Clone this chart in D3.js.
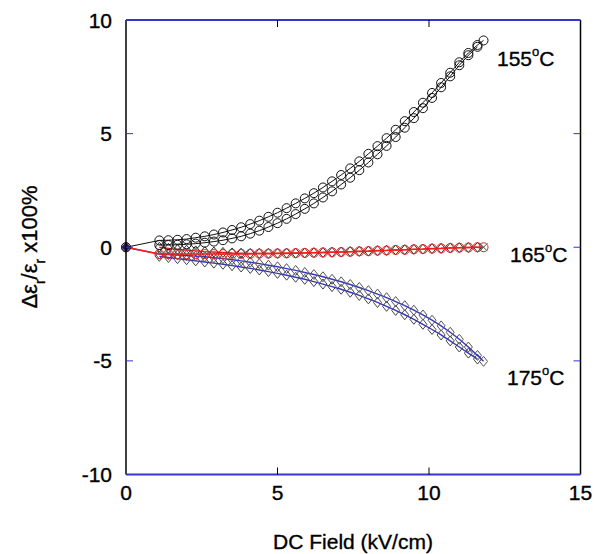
<!DOCTYPE html>
<html><head><meta charset="utf-8">
<script src="https://cdn.jsdelivr.net/npm/d3@7"></script>
<style>
html,body{margin:0;padding:0;background:#fff;}
text{font-family:"Liberation Sans",Arial,sans-serif;fill:#000;stroke:#000;stroke-width:0.35px;}
</style></head>
<body>
<svg id="chart" width="602" height="554"></svg>
<script>
// ---- data ----
const fieldsA = [0, 1.1, 1.4, 1.7, 2.0, 2.3, 2.6, 2.9, 3.2, 3.5, 3.8, 4.1, 4.4, 4.7, 5.0, 5.3, 5.6, 5.9, 6.2, 6.5, 6.8, 7.1, 7.4, 7.7, 8.0, 8.3, 8.6, 8.9, 9.2, 9.5, 9.8, 10.1, 10.4, 10.7, 11.0, 11.3, 11.6, 11.8];
const fieldsB = [1.1, 1.4, 1.7, 2.0, 2.3, 2.6, 2.9, 3.2, 3.5, 3.8, 4.1, 4.4, 4.7, 5.0, 5.3, 5.6, 5.9, 6.2, 6.5, 6.8, 7.1, 7.4, 7.7, 8.0, 8.3, 8.6, 8.9, 9.2, 9.5, 9.8, 10.1, 10.4, 10.7, 11.0, 11.3, 11.6];

const t155A = [0, 0.30, 0.31, 0.33, 0.36, 0.42, 0.48, 0.56, 0.65, 0.76, 0.88, 1.02, 1.17, 1.34, 1.52, 1.72, 1.93, 2.15, 2.38, 2.63, 2.90, 3.18, 3.47, 3.78, 4.11, 4.45, 4.80, 5.17, 5.55, 5.95, 6.36, 6.79, 7.23, 7.68, 8.14, 8.55, 8.90, 9.10];
const t155B = [0.10, 0.10, 0.11, 0.13, 0.16, 0.20, 0.25, 0.31, 0.39, 0.48, 0.60, 0.73, 0.89, 1.06, 1.25, 1.46, 1.69, 1.93, 2.19, 2.46, 2.76, 3.06, 3.39, 3.73, 4.09, 4.46, 4.85, 5.26, 5.68, 6.12, 6.57, 7.04, 7.52, 8.01, 8.45, 8.82];

const t165A = [0, -0.30, -0.30, -0.30, -0.30, -0.30, -0.30, -0.30, -0.30, -0.29, -0.29, -0.29, -0.28, -0.28, -0.27, -0.27, -0.26, -0.25, -0.24, -0.23, -0.22, -0.21, -0.20, -0.18, -0.17, -0.15, -0.14, -0.12, -0.11, -0.09, -0.08, -0.06, -0.05, -0.03, -0.02, -0.01, 0.00, 0.00];
const t165B = [0.00, -0.05, -0.10, -0.13, -0.16, -0.19, -0.21, -0.23, -0.25, -0.26, -0.27, -0.27, -0.27, -0.27, -0.26, -0.26, -0.25, -0.24, -0.23, -0.22, -0.21, -0.19, -0.18, -0.17, -0.15, -0.14, -0.12, -0.11, -0.09, -0.08, -0.06, -0.05, -0.03, -0.02, -0.01, 0.00];

const t175A = [0, -0.30, -0.32, -0.34, -0.36, -0.39, -0.42, -0.46, -0.50, -0.55, -0.60, -0.66, -0.72, -0.79, -0.86, -0.94, -1.02, -1.11, -1.20, -1.30, -1.41, -1.52, -1.64, -1.77, -1.91, -2.06, -2.22, -2.39, -2.57, -2.77, -2.98, -3.21, -3.46, -3.74, -4.05, -4.39, -4.76, -5.02];
const t175B = [-0.40, -0.45, -0.50, -0.55, -0.60, -0.65, -0.70, -0.75, -0.81, -0.87, -0.93, -1.00, -1.07, -1.15, -1.23, -1.32, -1.41, -1.51, -1.62, -1.73, -1.85, -1.98, -2.12, -2.27, -2.43, -2.60, -2.78, -2.97, -3.17, -3.39, -3.62, -3.86, -4.12, -4.39, -4.66, -4.92];

const xTicks = [0, 5, 10, 15];
const yTicks = [-10, -5, 0, 5, 10];
const seriesLabels = ["155", "165", "175"];
const labelValues = [8.33, -0.3, -5.71];

// ---- layout ----
const svg = d3.select("#chart");
const x = d3.scaleLinear().domain([0, 15]).range([126, 580.5]);
const y = d3.scaleLinear().domain([-10, 10]).range([474.5, 20]);
const BLUE = "#3535c8";

const zip = (xs, ys) => xs.map((v, i) => [v, ys[i]]);
const line = d3.line().x(d => x(d[0])).y(d => y(d[1]));

function drawSeries(pts, lineColor, marker, mColor, lw) {
  svg.append("path").datum(pts).attr("d", line)
    .attr("fill", "none").attr("stroke", lineColor).attr("stroke-width", lw);
  const g = svg.append("g");
  pts.forEach(p => {
    const cx = x(p[0]), cy = y(p[1]);
    if (marker === "circle") {
      g.append("circle").attr("cx", cx).attr("cy", cy).attr("r", 4.5)
        .attr("fill", "none").attr("stroke", mColor).attr("stroke-width", 1);
    } else if (marker === "diamond") {
      g.append("path").attr("d", `M${cx},${cy-5}L${cx+4},${cy}L${cx},${cy+5}L${cx-4},${cy}Z`)
        .attr("fill", "none").attr("stroke", mColor).attr("stroke-width", 1);
    }
  });
}

// ---- data series ----
drawSeries(zip(fieldsB, t175B), BLUE, "diamond", "#444", 1.4);
drawSeries(zip(fieldsA, t175A), BLUE, "diamond", "#555", 1.4);
drawSeries(zip(fieldsB, t165B), "#e02020", "diamond", "#333", 1.3);
drawSeries(zip(fieldsA, t165A), "#ff1a1a", "circle", "#e02020", 1.6);
drawSeries(zip(fieldsB, t155B), "#111", "circle", "#111", 1);
drawSeries(zip(fieldsA, t155A), "#111", "circle", "#111", 1);

// end cross on 165
{
  const last = [fieldsA[fieldsA.length - 1], t165A[t165A.length - 1]];
  const cx = x(last[0]), cy = y(last[1]);
  svg.append("path").attr("d", `M${cx-4},${cy-4}L${cx+4},${cy+4}M${cx-4},${cy+4}L${cx+4},${cy-4}`)
    .attr("stroke", "#555").attr("stroke-width", 1);
}
// origin marker
svg.append("path").attr("d", `M${x(0)},${y(0)-4}L${x(0)+4},${y(0)}L${x(0)},${y(0)+4}L${x(0)-4},${y(0)}Z`)
  .attr("fill", "#1a1a70").attr("stroke", "#1a1a70");

// ---- frame ----
const [x0, x1] = x.range();
const [yb, yt] = y.range();
svg.append("line").attr("x1", x0).attr("x2", x0).attr("y1", yt).attr("y2", yb).attr("stroke", "#000").attr("stroke-width", 1.5);
svg.append("line").attr("x1", x1).attr("x2", x1).attr("y1", yt).attr("y2", yb).attr("stroke", "#000").attr("stroke-width", 1.5);
svg.append("line").attr("x1", x0).attr("x2", x1).attr("y1", yt).attr("y2", yt).attr("stroke", BLUE).attr("stroke-width", 1.8);
svg.append("line").attr("x1", x0).attr("x2", x1).attr("y1", yb).attr("y2", yb).attr("stroke", BLUE).attr("stroke-width", 1.8);

// ---- ticks ----
xTicks.filter(t => t > 0 && t < 15).forEach(t => {
  svg.append("line").attr("x1", x(t)).attr("x2", x(t)).attr("y1", yb).attr("y2", yb - 7).attr("stroke", "#000").attr("stroke-width", 1);
  svg.append("line").attr("x1", x(t)).attr("x2", x(t)).attr("y1", yt).attr("y2", yt + 7).attr("stroke", "#000").attr("stroke-width", 1);
});
yTicks.filter(t => t > -10 && t < 10).forEach(t => {
  svg.append("line").attr("x1", x0).attr("x2", x0 + 7).attr("y1", y(t)).attr("y2", y(t)).attr("stroke", BLUE).attr("stroke-width", 1);
  svg.append("line").attr("x1", x1).attr("x2", x1 - 7).attr("y1", y(t)).attr("y2", y(t)).attr("stroke", BLUE).attr("stroke-width", 1);
});

// ---- tick labels ----
const FS = 21;
xTicks.forEach(t => {
  svg.append("text").attr("x", x(t)).attr("y", 500).attr("text-anchor", "middle")
    .attr("font-size", FS).text(t);
});
yTicks.forEach(t => {
  svg.append("text").attr("x", 112).attr("y", y(t) + 7.5).attr("text-anchor", "end")
    .attr("font-size", FS).text(t);
});

// ---- axis titles ----
svg.append("text").attr("x", 353).attr("y", 549).attr("text-anchor", "middle")
  .attr("font-size", FS).text("DC Field (kV/cm)");

const yl = svg.append("text").attr("transform", "translate(37,247) rotate(-90)")
  .attr("text-anchor", "middle").attr("font-size", 22);
yl.append("tspan").text("Δε");
yl.append("tspan").attr("font-size", 14).attr("dy", 8).text("r");
yl.append("tspan").attr("dy", -8).text("/ε");
yl.append("tspan").attr("font-size", 14).attr("dy", 8).text("r");
yl.append("tspan").attr("dy", -8).text(" x100%");

// ---- series labels ----
const labelX = [497, 510, 507];
seriesLabels.forEach((s, i) => {
  const t = svg.append("text").attr("x", labelX[i]).attr("y", y(labelValues[i]) + 8).attr("font-size", FS);
  t.append("tspan").text(s);
  t.append("tspan").attr("font-size", 13).attr("dy", -10).text("o");
  t.append("tspan").attr("dy", 10).text("C");
});
</script>
</body></html>
